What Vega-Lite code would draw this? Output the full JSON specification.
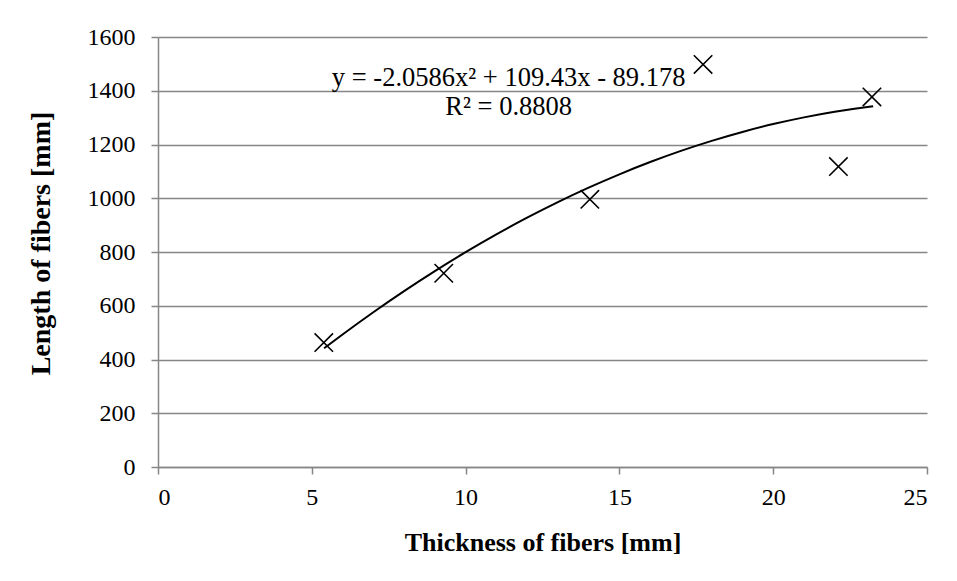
{
  "$schema": "https://vega.github.io/schema/vega-lite/v6.json",
  "autosize": "none",
  "width": 769,
  "height": 430,
  "padding": {"left": 158, "top": 37, "right": 30, "bottom": 114},
  "background": "white",
  "config": {
    "view": {"stroke": null},
    "font": "Liberation Serif",
    "axis": {
      "labelFont": "Liberation Serif",
      "titleFont": "Liberation Serif",
      "labelFontSize": 24,
      "titleFontSize": 26,
      "labelColor": "black",
      "titleColor": "black",
      "domainColor": "#868686",
      "tickColor": "#868686",
      "gridColor": "#868686",
      "domainWidth": 1.5,
      "tickWidth": 1.5,
      "gridWidth": 1.5,
      "gridOpacity": 1,
      "tickSize": 7,
      "format": "d"
    }
  },
  "datasets": {
    "points": [
      {"t": 5.39, "l": 463},
      {"t": 9.29, "l": 721},
      {"t": 14.04, "l": 996},
      {"t": 17.72, "l": 1498},
      {"t": 22.12, "l": 1118},
      {"t": 23.21, "l": 1377}
    ],
    "trend": [
      {"t": 5.4, "l": 441.7},
      {"t": 6, "l": 493.3},
      {"t": 7, "l": 576.0},
      {"t": 8, "l": 654.5},
      {"t": 9, "l": 728.9},
      {"t": 10, "l": 799.3},
      {"t": 11, "l": 865.5},
      {"t": 12, "l": 927.5},
      {"t": 13, "l": 985.5},
      {"t": 14, "l": 1039.4},
      {"t": 15, "l": 1089.1},
      {"t": 16, "l": 1134.7},
      {"t": 17, "l": 1176.2},
      {"t": 18, "l": 1213.6},
      {"t": 19, "l": 1246.8},
      {"t": 20, "l": 1276.0},
      {"t": 21, "l": 1301.0},
      {"t": 22, "l": 1321.9},
      {"t": 23, "l": 1338.7},
      {"t": 23.25, "l": 1342.3}
    ],
    "labels": [
      {"t": 11.4, "l": 1449, "label": "y = -2.0586x² + 109.43x - 89.178"},
      {"t": 11.4, "l": 1341, "label": "R² = 0.8808"}
    ]
  },
  "layer": [
    {
      "data": {"name": "points"},
      "mark": {"type": "point", "shape": "M-1,-1L1,1M-1,1L1,-1", "filled": false, "stroke": "black", "strokeWidth": 1.6, "size": 340, "opacity": 1},
      "encoding": {
        "x": {
          "field": "t", "type": "quantitative",
          "scale": {"domain": [0, 25], "nice": false, "zero": true},
          "axis": {"values": [0, 5, 10, 15, 20, 25], "grid": false, "title": "Thickness of fibers [mm]", "titleFontWeight": "bold", "labelPadding": 11, "titlePadding": 20}
        },
        "y": {
          "field": "l", "type": "quantitative",
          "scale": {"domain": [0, 1600], "nice": false},
          "axis": {"values": [0, 200, 400, 600, 800, 1000, 1200, 1400, 1600], "grid": true, "title": "Length of fibers [mm]", "titleFontWeight": "bold", "titleFontSize": 28, "titleY": 206, "labelPadding": 16, "titlePadding": 32}
        }
      }
    },
    {
      "data": {"name": "trend"},
      "mark": {"type": "line", "color": "black", "strokeWidth": 2, "interpolate": "monotone"},
      "encoding": {
        "x": {"field": "t", "type": "quantitative"},
        "y": {"field": "l", "type": "quantitative"}
      }
    },
    {
      "data": {"name": "labels"},
      "mark": {"type": "text", "font": "Liberation Serif", "fontSize": 26.5, "color": "black", "align": "center", "baseline": "middle"},
      "encoding": {
        "x": {"field": "t", "type": "quantitative"},
        "y": {"field": "l", "type": "quantitative"},
        "text": {"field": "label"}
      }
    }
  ]
}
